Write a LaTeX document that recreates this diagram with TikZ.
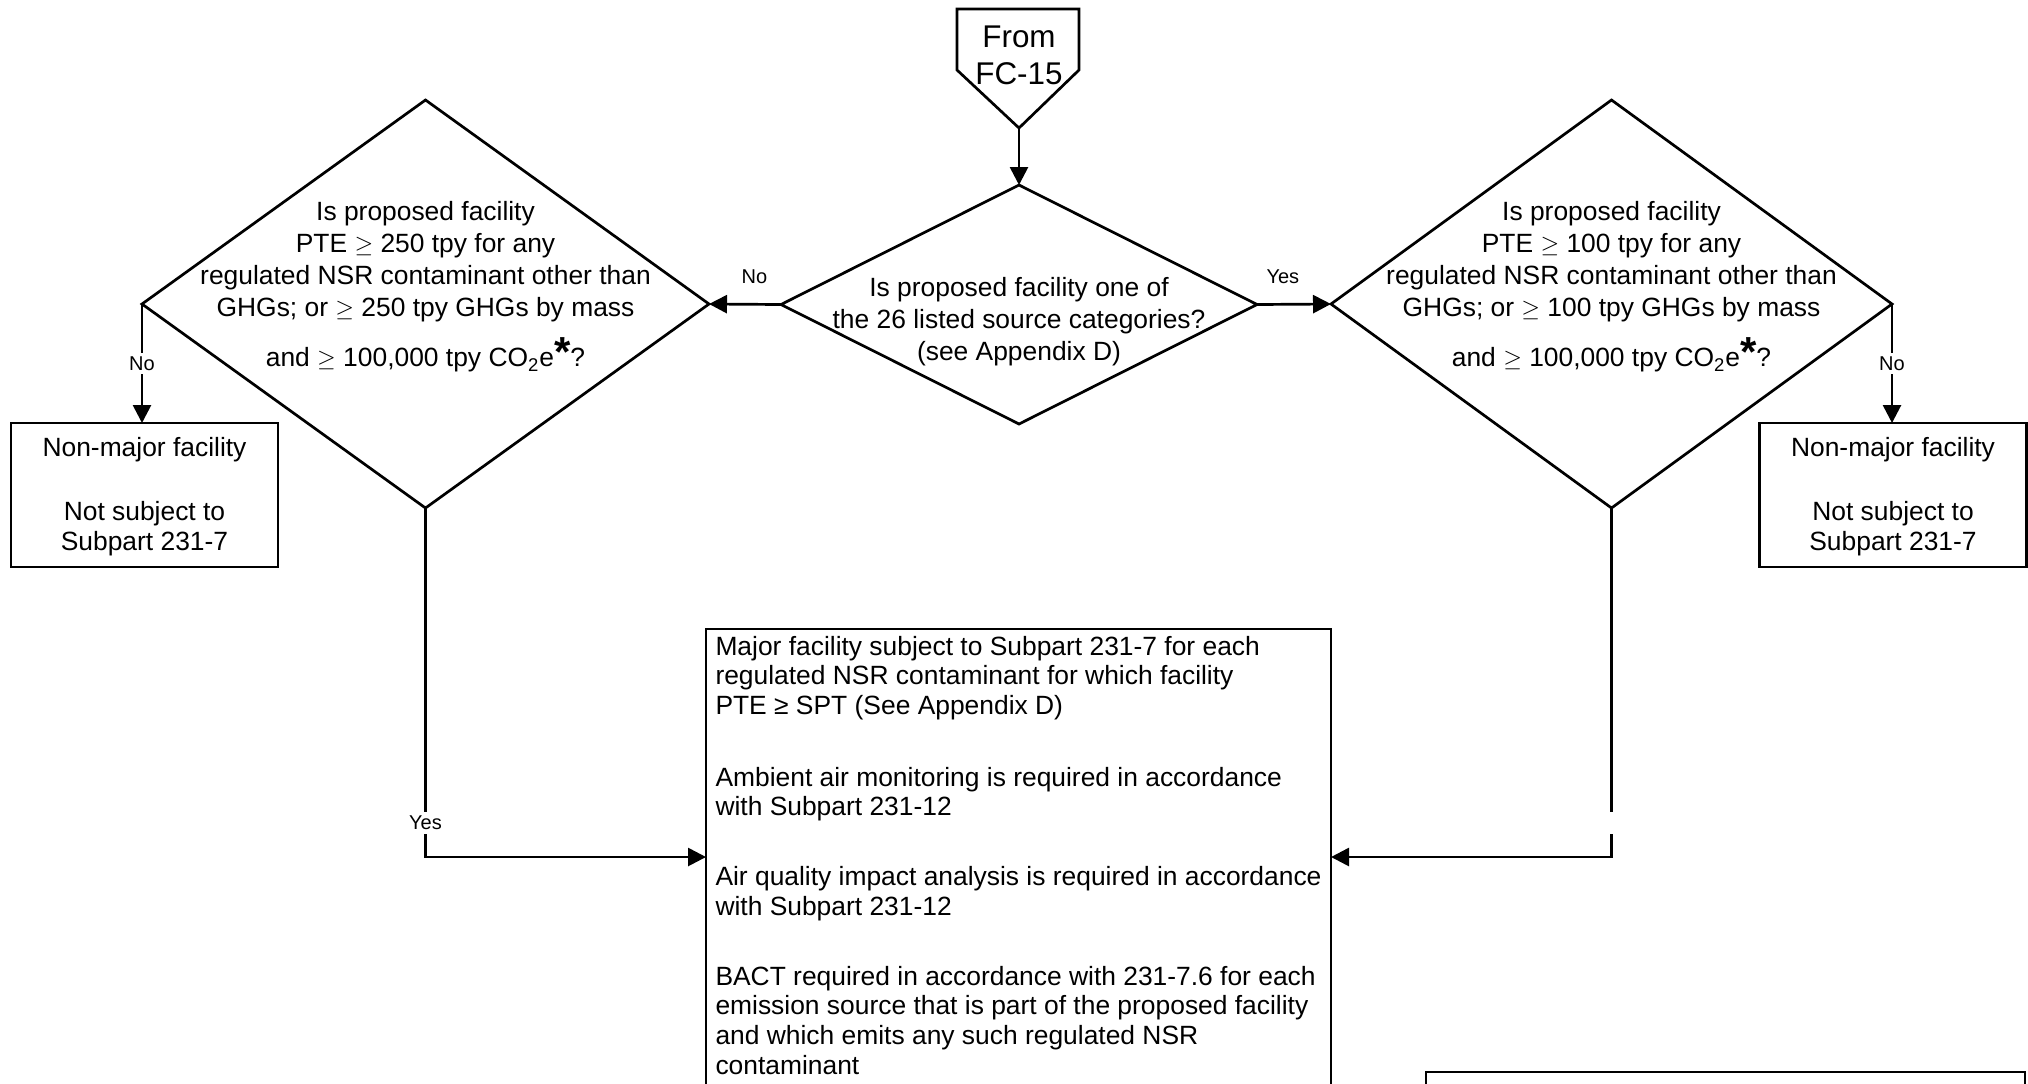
\documentclass[tikz,border=0pt]{standalone}
\usepackage{fontspec}
\setmainfont{Liberation Sans}
\usetikzlibrary{arrows.meta,shapes.geometric}

% large bold footnote asterisk that does not stretch the line
\newcommand{\starmark}{\smash{\fontsize{21}{21}\selectfont\bfseries *}}

\begin{document}
\begin{tikzpicture}[x=0.5pt,y=-0.5pt,line width=1.35pt,
  arr/.style={-{Triangle[length=9pt,width=9pt]}},
  qtext/.style={font=\fontsize{13.2}{16}\selectfont, align=center, inner sep=0pt},
  decision/.style={diamond, draw, inner sep=0pt, outer sep=0pt},
  endbox/.style={draw, minimum width=133.5pt, minimum height=72pt, inner sep=0pt, outer sep=0pt},
  endtext/.style={align=center, inner sep=0pt, font=\fontsize{13.2}{15}\selectfont},
  lbl/.style={font=\fontsize{10}{12}\selectfont, inner xsep=1pt, inner ysep=2pt},
  gap/.style={lbl, fill=white}]

\useasboundingbox (0,0) rectangle (2028,1083);

% off-page connector
\draw (957,9) -- (1079,9) -- (1079,70) -- (1019,128) -- (957,70) -- cycle;
\coordinate (fromtip) at (1019,128);
\node[align=center, inner sep=0pt, font=\fontsize{15.7}{18.5}\selectfont] (from) at (1019,55) {From\\FC-15};

% decisions
\node[decision, minimum width=238pt, minimum height=119.5pt] (cd) at (1019,304.5) {};
\node[qtext] (cdt) at (1019,322) {Is proposed facility one of\\the 26 listed source categories?\\(see Appendix D)};

\node[decision, minimum width=283.5pt, minimum height=204pt] (ld) at (425.5,304) {};
\node[qtext] (ldt) at (425.5,287) {Is proposed facility\\PTE $\geq$ 250 tpy for any\\regulated NSR contaminant other than\\GHGs; or $\geq$ 250 tpy GHGs by mass\\[9pt]and $\geq$ 100,000 tpy CO\textsubscript{2}e\starmark?};

\node[decision, minimum width=280.5pt, minimum height=204pt] (rd) at (1611.5,304) {};
\node[qtext] (rdt) at (1611.5,287) {Is proposed facility\\PTE $\geq$ 100 tpy for any\\regulated NSR contaminant other than\\GHGs; or $\geq$ 100 tpy GHGs by mass\\[9pt]and $\geq$ 100,000 tpy CO\textsubscript{2}e\starmark?};

% outcomes
\node[endbox] (lbox) at (144.5,495) {};
\node[endtext] (lboxt) at (144.5,497) {Non-major facility\\[17pt]Not subject to\\Subpart 231-7};
\node[endbox] (rbox) at (1893,495) {};
\node[endtext] (rboxt) at (1893,497) {Non-major facility\\[17pt]Not subject to\\Subpart 231-7};

\node[draw, anchor=north west, align=left, inner xsep=3pt, inner ysep=3.5pt, outer sep=0pt,
  minimum width=312.5pt, font=\fontsize{13.2}{14.85}\selectfont] (major) at (706,629)
  {Major facility subject to Subpart 231-7 for each\\
   regulated NSR contaminant for which facility\\
   PTE ≥ SPT (See Appendix D)\\[21pt]
   Ambient air monitoring is required in accordance\\
   with Subpart 231-12\\[20pt]
   Air quality impact analysis is required in accordance\\
   with Subpart 231-12\\[20pt]
   BACT required in accordance with 231-7.6 for each\\
   emission source that is part of the proposed facility\\
   and which emits any such regulated NSR\\
   contaminant\\[30pt]\mbox{}};

\node[draw, anchor=north west, minimum width=299.5pt, minimum height=40pt, outer sep=0pt] (key) at (1426,1072) {};

% connectors
\draw[arr] (fromtip) -- (cd.north);
\draw[arr] (cd.west) -- node[lbl, pos=0.37, above=7.5pt]{No} (ld.east);
\draw[arr] (cd.east) -- node[lbl, pos=0.35, above=7.5pt]{Yes} (rd.west);
\draw[arr] (ld.west) -- node[gap]{No} (ld.west |- lbox.north);
\draw[arr] (rd.east) -- node[gap]{No} (rd.east |- rbox.north);
\draw[arr] (ld.south) -- node[gap, pos=0.903]{Yes} (ld.south |- 0,857) -- (major.west |- 0,857);
\draw[arr] (rd.south) -- node[gap, pos=0.903]{\phantom{Yes}} (rd.south |- 0,857) -- (major.east |- 0,857);

\end{tikzpicture}
\end{document}
